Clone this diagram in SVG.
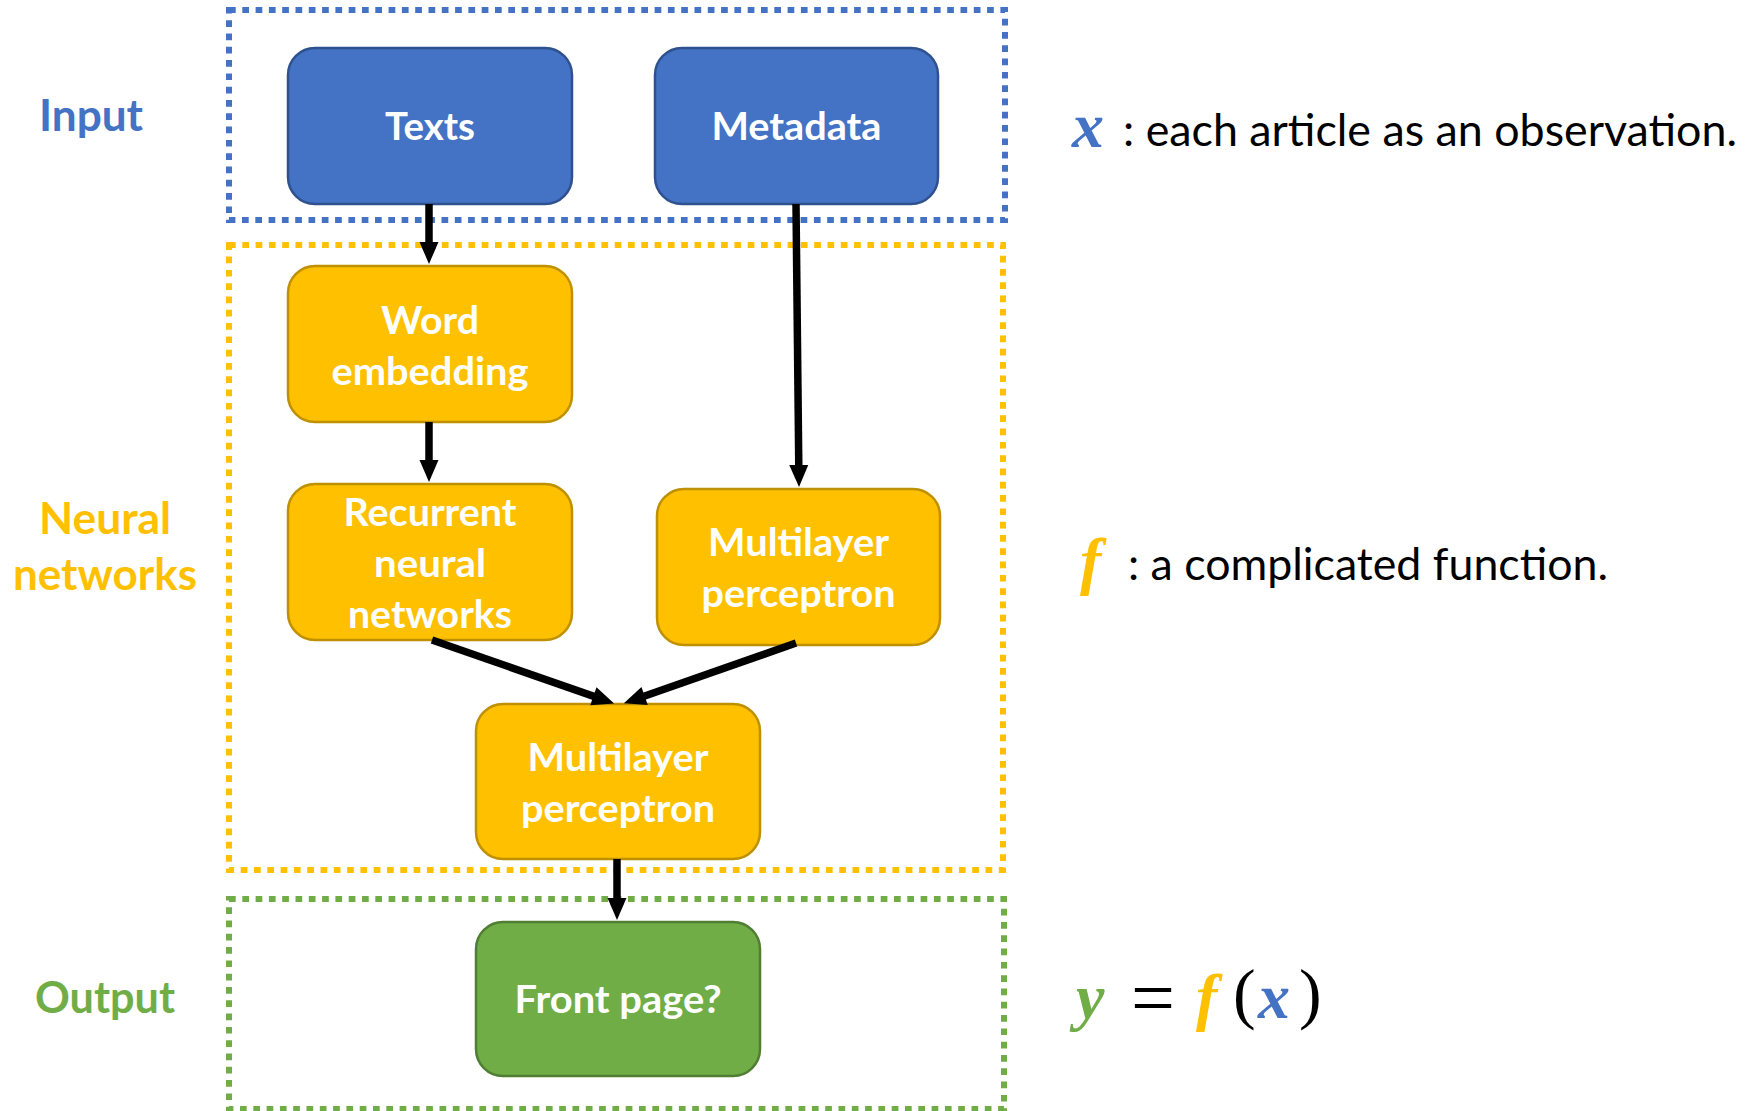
<svg xmlns="http://www.w3.org/2000/svg" width="1750" height="1111" viewBox="0 0 1750 1111">
<style>
.frame{fill:none;stroke-width:6;stroke-dasharray:6.7 6.6}
.node{stroke-width:2.5}
.blue{fill:#4472C4;stroke:#2F528F}
.orange{fill:#FFC000;stroke:#BF9000}
.green{fill:#70AD47;stroke:#507E32}
.lbl{font-family:Lato,"Liberation Sans",sans-serif;font-weight:bold;font-size:39px;fill:#FFFFFF;text-anchor:middle}
.side{font-family:Lato,"Liberation Sans",sans-serif;font-weight:bold;font-size:43px}
.desc{font-family:Lato,"Liberation Sans",sans-serif;font-size:44px;fill:#000000}
.math{font-family:"Liberation Serif",serif;font-style:italic;font-weight:bold;font-size:64px}
.mr{font-family:"Liberation Serif",serif;fill:#000000}
.conn line{stroke:#000000;stroke-width:7.5;marker-end:url(#ah)}
</style>
<defs>
<marker id="ah" markerUnits="userSpaceOnUse" markerWidth="24" markerHeight="20" refX="12" refY="9.5" orient="auto" overflow="visible">
<path d="M0,0 L22,9.5 L0,19 z" fill="#000000"/>
</marker>
</defs>
<rect width="1750" height="1111" fill="#FFFFFF"/>
<g id="frames">
<rect id="frame-input" class="frame" x="229" y="10" width="776" height="210" stroke="#4472C4"/>
<rect id="frame-nn" class="frame" x="229" y="245" width="774" height="625" stroke="#FFC000"/>
<rect id="frame-output" class="frame" x="229" y="899" width="775" height="210" stroke="#70AD47"/>
</g>
<g id="side-labels">
<text class="side" x="91" y="131" text-anchor="middle" fill="#4472C4" textLength="104" lengthAdjust="spacingAndGlyphs">Input</text>
<text class="side" x="105" y="534" text-anchor="middle" fill="#FFC000" textLength="132" lengthAdjust="spacingAndGlyphs">Neural</text>
<text class="side" x="105" y="590" text-anchor="middle" fill="#FFC000" textLength="184" lengthAdjust="spacingAndGlyphs">networks</text>
<text class="side" x="105" y="1013" text-anchor="middle" fill="#70AD47" textLength="140" lengthAdjust="spacingAndGlyphs">Output</text>
</g>
<g id="node-texts">
<rect class="node blue" x="288" y="48" width="284" height="156" rx="27"/>
<text class="lbl" x="430" y="140" textLength="90" lengthAdjust="spacingAndGlyphs">Texts</text>
</g>
<g id="node-metadata">
<rect class="node blue" x="655" y="48" width="283" height="156" rx="27"/>
<text class="lbl" x="796.5" y="140" textLength="170" lengthAdjust="spacingAndGlyphs">Metadata</text>
</g>
<g id="node-word-embedding">
<rect class="node orange" x="288" y="266" width="284" height="156" rx="27"/>
<text class="lbl" x="430" y="334" textLength="98" lengthAdjust="spacingAndGlyphs">Word</text>
<text class="lbl" x="430" y="385" textLength="197" lengthAdjust="spacingAndGlyphs">embedding</text>
</g>
<g id="node-rnn">
<rect class="node orange" x="288" y="484" width="284" height="156" rx="27"/>
<text class="lbl" x="430" y="526" textLength="173" lengthAdjust="spacingAndGlyphs">Recurrent</text>
<text class="lbl" x="430" y="577" textLength="112" lengthAdjust="spacingAndGlyphs">neural</text>
<text class="lbl" x="430" y="628" textLength="164" lengthAdjust="spacingAndGlyphs">networks</text>
</g>
<g id="node-mlp-right">
<rect class="node orange" x="657" y="489" width="283" height="156" rx="27"/>
<text class="lbl" x="798.5" y="556" textLength="181" lengthAdjust="spacingAndGlyphs">Multilayer</text>
<text class="lbl" x="798.5" y="607" textLength="194" lengthAdjust="spacingAndGlyphs">perceptron</text>
</g>
<g id="node-mlp-bottom">
<rect class="node orange" x="476" y="704" width="284" height="155" rx="27"/>
<text class="lbl" x="618" y="771" textLength="181" lengthAdjust="spacingAndGlyphs">Multilayer</text>
<text class="lbl" x="618" y="822" textLength="194" lengthAdjust="spacingAndGlyphs">perceptron</text>
</g>
<g id="node-front-page">
<rect class="node green" x="476" y="922" width="284" height="154" rx="27"/>
<text class="lbl" x="618" y="1013" textLength="207" lengthAdjust="spacingAndGlyphs">Front page?</text>
</g>
<g id="connectors" class="conn">
<line x1="429" y1="204" x2="429" y2="254"/>
<line x1="796" y1="204" x2="798.9" y2="477"/>
<line x1="429" y1="422" x2="429" y2="472"/>
<line x1="432" y1="640" x2="604.7" y2="700.1"/>
<line x1="796" y1="643" x2="633.3" y2="700.0"/>
<line x1="617" y1="859" x2="617" y2="910"/>
</g>
<g id="annotations">
<text class="math" x="1072" y="147" fill="#4472C4">x</text>
<text class="desc" x="1123" y="146" textLength="614" lengthAdjust="spacingAndGlyphs">: each article as an observation.</text>
<text class="math" x="1080" y="582" fill="#FFC000">f</text>
<text class="desc" x="1128" y="580" textLength="480" lengthAdjust="spacingAndGlyphs">: a complicated function.</text>
<text class="math" x="1076" y="1018" fill="#70AD47">y</text>
<text class="mr" x="1131" y="1024" font-size="78">=</text>
<text class="math" x="1196" y="1018" fill="#FFC000">f</text>
<text class="mr" x="1233" y="1016" font-size="68">(</text>
<text class="math" x="1258" y="1018" fill="#4472C4">x</text>
<text class="mr" x="1299" y="1016" font-size="68">)</text>
</g>
</svg>
